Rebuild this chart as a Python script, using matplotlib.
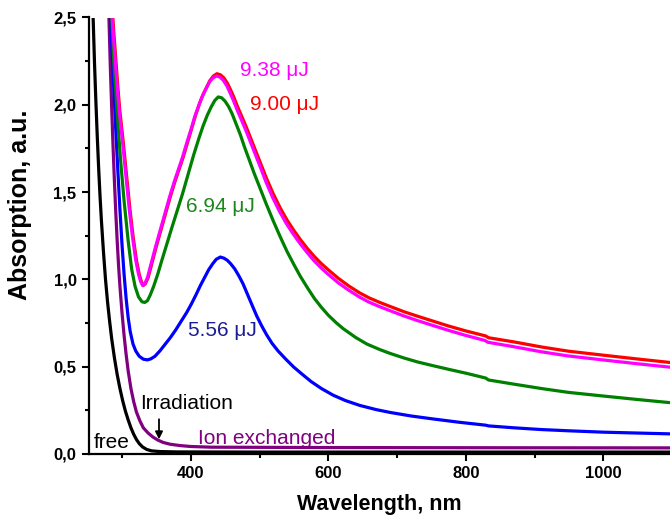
import matplotlib
matplotlib.use("Agg")
import matplotlib.pyplot as plt
from matplotlib.ticker import MultipleLocator, FuncFormatter

plt.rcParams['font.family'] = ['Liberation Sans', 'DejaVu Sans']

# ---- data (wavelength in nm, absorption in a.u.) ----
free_wl = [256, 258, 260, 262, 264, 266, 268, 270, 273, 276, 279, 282, 285, 289, 293, 297, 301, 305, 309, 313,
           317, 321, 325, 330, 336, 343, 355, 380, 500, 1100]
free_abs = [2.75, 2.50, 2.24, 2.02, 1.82, 1.64, 1.48, 1.34, 1.16, 1.00, 0.87, 0.76, 0.66, 0.55, 0.455, 0.375, 0.305, 0.245, 0.195, 0.15,
            0.113, 0.083, 0.060, 0.040, 0.026, 0.018, 0.014, 0.012, 0.011, 0.011]

ion_wl = [279, 281, 283, 285, 287, 289, 291, 293, 295, 297, 300, 303, 306, 309, 313, 317, 321, 326, 331, 338,
          345, 352, 360, 370, 385, 400, 430, 600, 800, 1100]
ion_abs = [2.75, 2.50, 2.22, 1.98, 1.76, 1.56, 1.38, 1.22, 1.08, 0.96, 0.81, 0.68, 0.57, 0.475, 0.375, 0.30, 0.24, 0.19, 0.15, 0.12,
           0.097, 0.080, 0.066, 0.056, 0.048, 0.043, 0.039, 0.037, 0.036, 0.035]

blue_wl = [283, 285, 288, 291, 294, 297, 300, 303, 306, 309, 312, 316, 320, 325, 331, 337, 342, 348, 355, 362,
           370, 378, 386, 394, 401, 408, 414, 420, 426, 432, 437, 443, 448, 453, 458, 464, 470, 476, 483, 490,
           496, 503, 510, 518, 527, 539, 550, 562, 575, 590, 607, 625, 646, 670, 690, 720, 750, 790, 829, 833,
           870, 910, 949, 1000, 1050, 1100]
blue_abs = [2.60, 2.35, 2.10, 1.85, 1.62, 1.40, 1.20, 1.03, 0.89, 0.78, 0.70, 0.63, 0.59, 0.56, 0.543, 0.539, 0.545, 0.56, 0.59, 0.625,
            0.665, 0.71, 0.76, 0.81, 0.86, 0.915, 0.965, 1.01, 1.055, 1.09, 1.115, 1.128, 1.122, 1.11, 1.09, 1.06, 1.02, 0.975, 0.91, 0.845,
            0.79, 0.735, 0.685, 0.635, 0.59, 0.54, 0.497, 0.457, 0.415, 0.375, 0.337, 0.306, 0.278, 0.254, 0.238, 0.218, 0.202, 0.182, 0.165, 0.161,
            0.15, 0.14, 0.133, 0.125, 0.12, 0.115]

green_wl = [284, 288, 293, 298, 303, 309, 314, 319, 324, 329, 333, 337, 341, 346, 352, 358, 365, 372, 380, 388,
            396, 404, 412, 418, 424, 430, 435, 440, 445, 450, 455, 460, 466, 472, 478, 485, 492, 500, 510, 520,
            530, 540, 550, 559, 570, 580, 590, 600, 612, 622, 640, 656, 675, 690, 710, 730, 750, 775, 800, 829,
            833, 870, 910, 949, 1000, 1050, 1100]
green_abs = [2.60, 2.25, 1.95, 1.68, 1.45, 1.22, 1.06, 0.96, 0.90, 0.872, 0.868, 0.878, 0.91, 0.96, 1.03, 1.11, 1.20, 1.29, 1.39, 1.49,
             1.60, 1.71, 1.81, 1.88, 1.94, 1.99, 2.025, 2.045, 2.04, 2.02, 1.99, 1.95, 1.89, 1.83, 1.76, 1.685, 1.61, 1.53, 1.43, 1.335,
             1.245, 1.16, 1.085, 1.02, 0.95, 0.89, 0.84, 0.795, 0.75, 0.717, 0.667, 0.63, 0.598, 0.576, 0.55, 0.527, 0.508, 0.485, 0.463, 0.435,
             0.424, 0.40, 0.375, 0.353, 0.332, 0.312, 0.293]

red_wl = [285, 288, 291, 294, 297, 302, 306, 311.6, 316, 321, 325, 328, 331, 334, 338, 342, 346, 350, 355, 360,
          365, 370, 377, 383, 389, 395, 401, 407, 413, 418, 423, 428, 433, 438, 443, 448, 453, 458, 463, 468,
          474, 481, 488, 495, 503, 510, 520, 530, 540, 550, 560, 570, 580, 590, 600, 615, 630, 646, 660, 675,
          690, 710, 730, 750, 775, 800, 829, 833, 870, 910, 949, 1000, 1050, 1100]
red_abs = [2.60, 2.42, 2.26, 2.10, 1.96, 1.78, 1.62, 1.40, 1.25, 1.11, 1.03, 0.99, 0.965, 0.975, 1.01, 1.07, 1.13, 1.19, 1.26, 1.33,
           1.40, 1.47, 1.56, 1.63, 1.70, 1.78, 1.86, 1.94, 2.01, 2.06, 2.10, 2.14, 2.165, 2.178, 2.172, 2.155, 2.125, 2.085, 2.04, 1.99,
           1.935, 1.87, 1.80, 1.73, 1.65, 1.58, 1.49, 1.41, 1.34, 1.28, 1.225, 1.175, 1.13, 1.09, 1.055, 1.005, 0.962, 0.922, 0.893, 0.868,
           0.845, 0.815, 0.789, 0.764, 0.733, 0.705, 0.676, 0.666, 0.642, 0.613, 0.589, 0.566, 0.544, 0.523]

magenta_wl = [284, 287, 290, 293, 296, 301, 305, 310.6, 315, 320, 324, 327, 330, 333, 337, 341, 345, 349, 354, 359,
              364, 369, 376, 382, 388, 394, 400, 406, 412, 417, 422, 427, 432, 437, 442, 447, 452, 457, 462, 467,
              473, 480, 487, 494, 502, 509, 519, 529, 539, 549, 559, 569, 579, 589, 599, 614, 629, 645, 659, 674,
              689, 709, 729, 749, 774, 799, 828, 832, 869, 909, 948, 999, 1049, 1100]
magenta_abs = [2.60, 2.42, 2.26, 2.10, 1.96, 1.78, 1.62, 1.40, 1.25, 1.11, 1.03, 0.99, 0.965, 0.975, 1.01, 1.07, 1.13, 1.19, 1.26, 1.33,
               1.40, 1.47, 1.56, 1.63, 1.70, 1.78, 1.855, 1.935, 2.0, 2.05, 2.09, 2.13, 2.153, 2.165, 2.16, 2.142, 2.112, 2.07, 2.025, 1.975,
               1.92, 1.855, 1.785, 1.715, 1.635, 1.562, 1.47, 1.39, 1.32, 1.26, 1.205, 1.155, 1.108, 1.068, 1.032, 0.982, 0.94, 0.9, 0.87, 0.845,
               0.822, 0.792, 0.765, 0.74, 0.709, 0.68, 0.65, 0.64, 0.615, 0.586, 0.562, 0.539, 0.517, 0.496]

series = [
    (free_wl, free_abs, '#000000'),
    (ion_wl, ion_abs, '#800080'),
    (blue_wl, blue_abs, '#0000ff'),
    (green_wl, green_abs, '#008000'),
    (red_wl, red_abs, '#ff0000'),
    (magenta_wl, magenta_abs, '#ff00ff'),
]

x_ticks = [400, 600, 800, 1000]
y_ticks = [0.0, 0.5, 1.0, 1.5, 2.0, 2.5]

fig = plt.figure(figsize=(6.70, 5.29), dpi=100)
ax = fig.add_axes([89/670, 1-454/529, 1-89/670, (454-17.5)/529])

for wl, ab, c in series:
    ax.plot(wl, ab, color=c, lw=2.3, solid_joinstyle='round', solid_capstyle='round')

ax.set_xlim(252, 1097)
ax.set_ylim(0, 2.5)
ax.set_xticks(x_ticks)
ax.set_yticks(y_ticks)
ax.xaxis.set_minor_locator(MultipleLocator(100))
ax.yaxis.set_minor_locator(MultipleLocator(0.25))
ax.yaxis.set_major_formatter(FuncFormatter(lambda v, p: f"{v:.1f}".replace('.', ',')))
ax.xaxis.set_major_formatter(FuncFormatter(lambda v, p: f"{v:.0f}"))
for lab in ax.get_xticklabels() + ax.get_yticklabels():
    lab.set_fontweight('bold')
ax.tick_params(axis='both', which='major', direction='out', length=5, width=1.5, labelsize=12, pad=4)
ax.tick_params(axis='both', which='minor', direction='out', length=3, width=1.5)
for s in ['top', 'right']:
    ax.spines[s].set_visible(False)
for s in ['left', 'bottom']:
    ax.spines[s].set_linewidth(1.6)

ax.set_xlabel('Wavelength, nm', fontsize=15.5, fontweight='bold', labelpad=9)
ax.set_ylabel('Absorption, a.u.', fontsize=18, fontweight='bold')
ax.yaxis.label.set_va('center')
ax.yaxis.set_label_coords((20 - 89) / 581, (454 - 205) / 436.5)

fs = 15
ax.text(471.6, 2.167, '9.38 μJ', color='#ff00ff', fontsize=fs, va='baseline')
ax.text(486.2, 1.968, '9.00 μJ', color='#ff0000', fontsize=fs, va='baseline')
ax.text(393.1, 1.386, '6.94 μJ', color='#1e861e', fontsize=fs, va='baseline')
ax.text(396.4, 0.678, '5.56 μJ', color='#1c1c96', fontsize=fs, va='baseline')
ax.text(326.2, 0.256, 'Irradiation', color='#000000', fontsize=fs, va='baseline')
ax.text(411.0, 0.0556, 'Ion exchanged', color='#800080', fontsize=fs, va='baseline')
ax.text(258.3, 0.036, 'free', color='#000000', fontsize=fs, va='baseline')
ax.annotate('', xy=(353.8, 0.068), xytext=(353.8, 0.215),
            arrowprops=dict(arrowstyle='-|>', color='k', lw=1.3, mutation_scale=11))

fig.savefig('out.png', dpi=100)
